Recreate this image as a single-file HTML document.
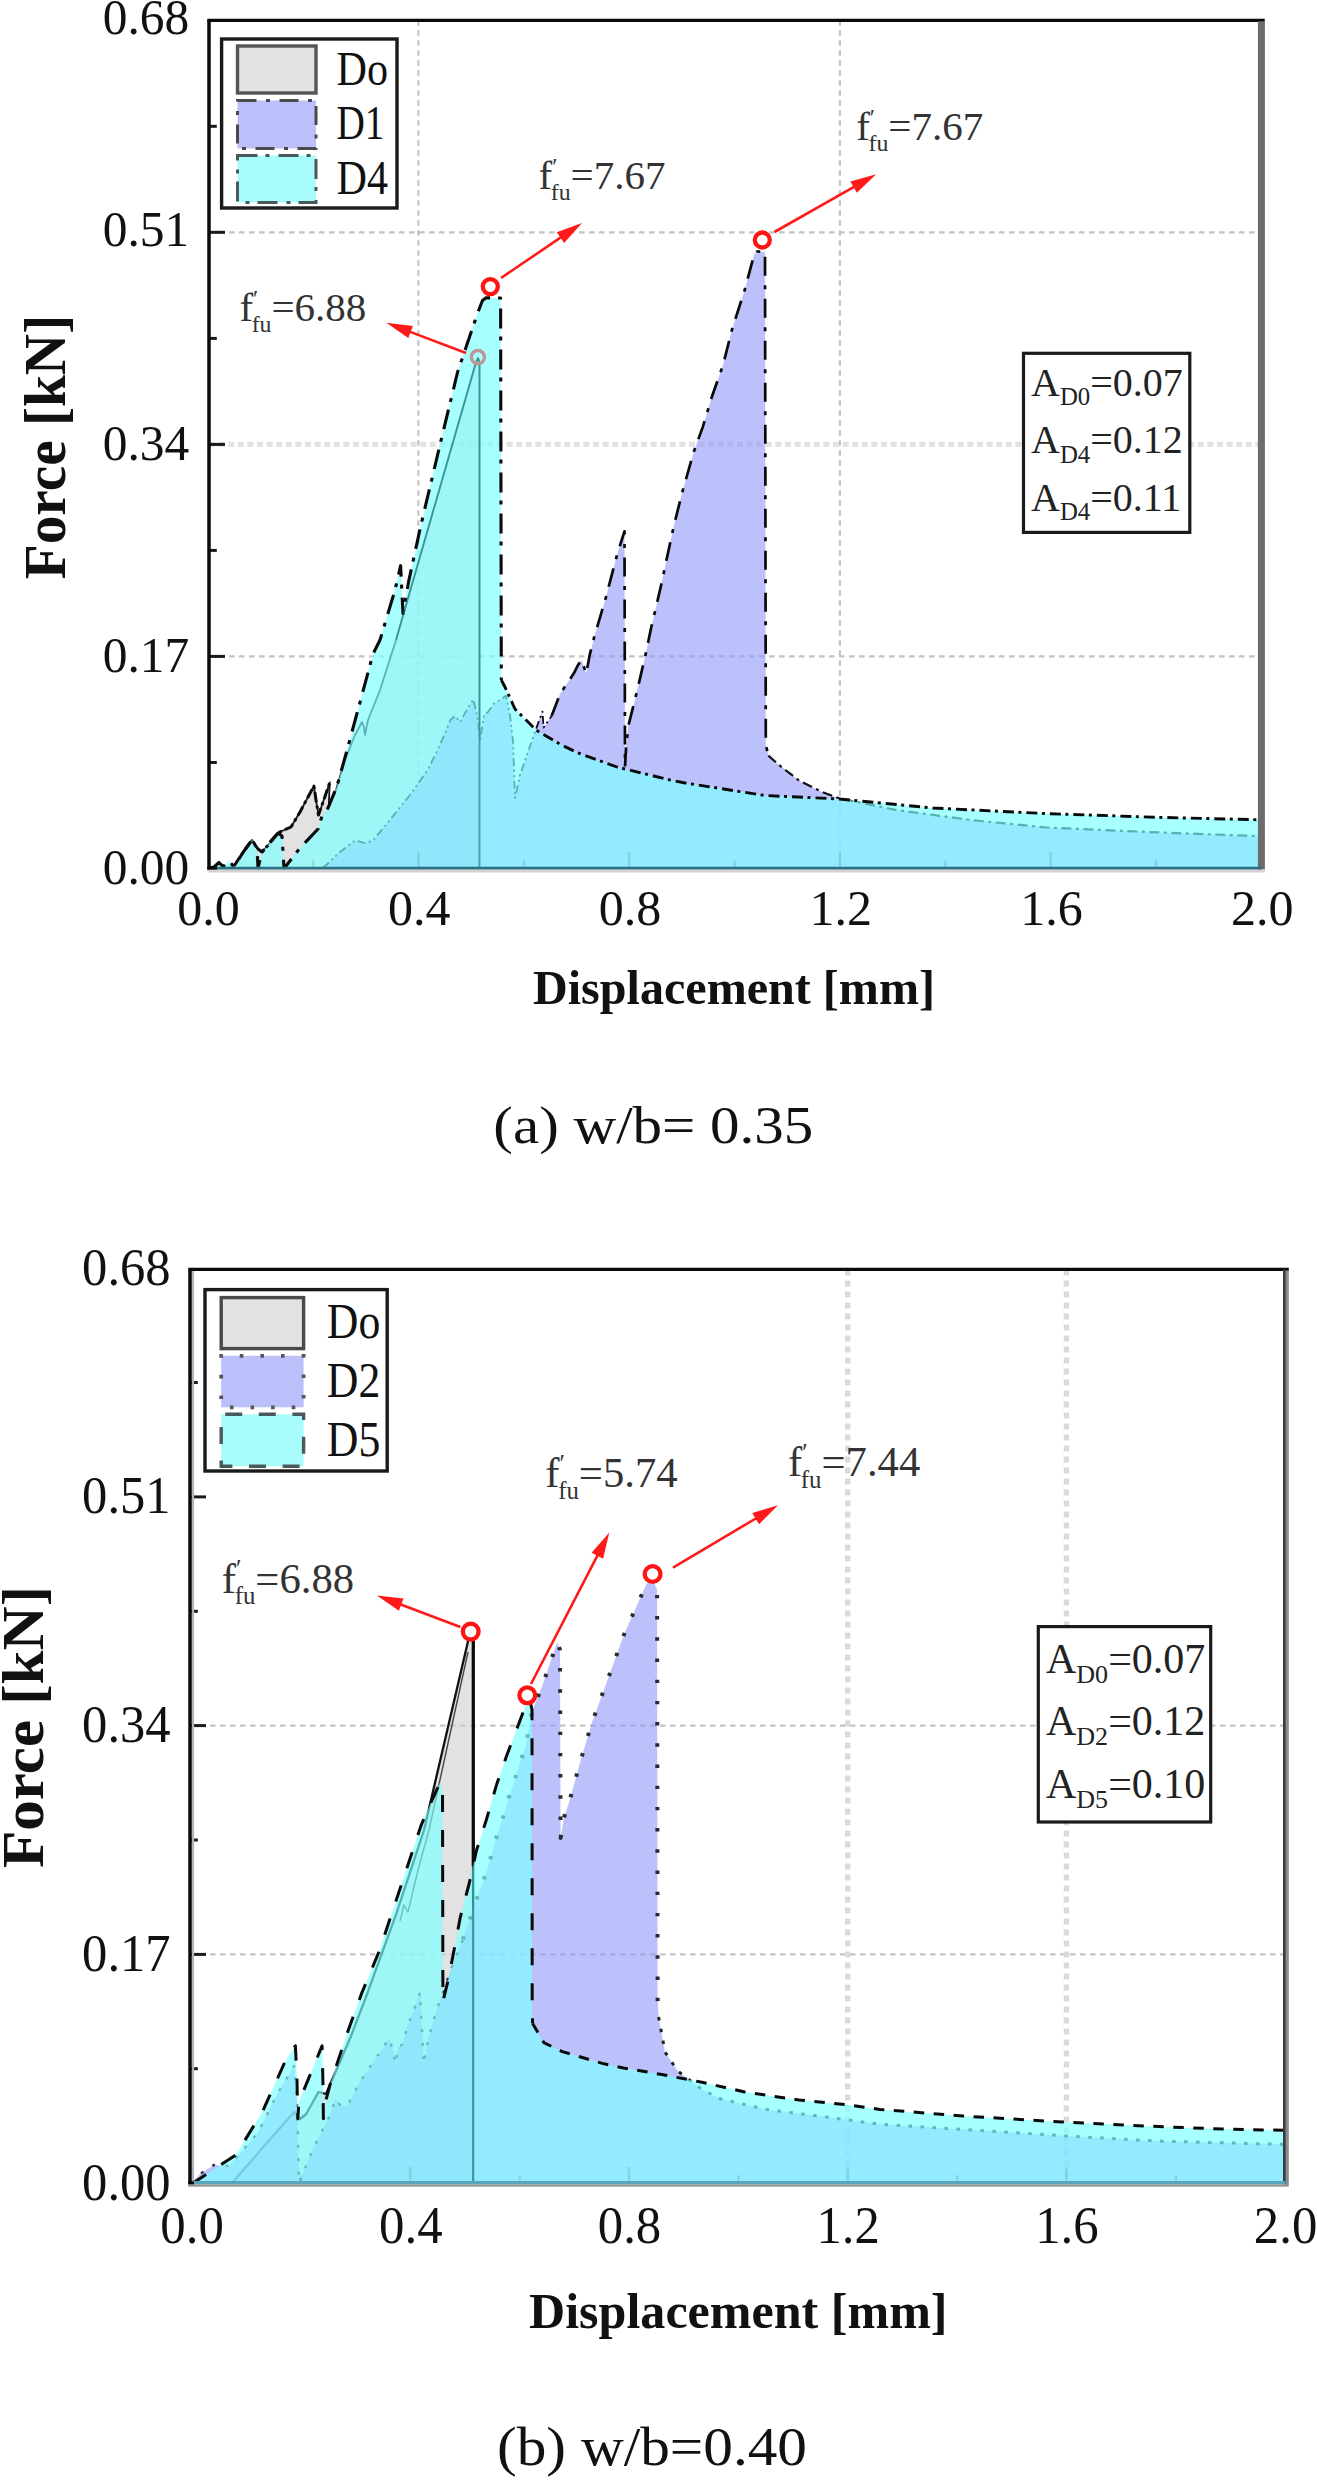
<!DOCTYPE html><html><head><meta charset="utf-8"><title>Force-displacement curves</title>
<style>html,body{margin:0;padding:0;background:#fff}svg{display:block}text{font-family:'Liberation Serif', 'Times New Roman', serif;}</style></head><body>
<svg width="1317" height="2480" viewBox="0 0 1317 2480">
<rect width="1317" height="2480" fill="#fff"/>
<g id="chartA">
<line x1="209.0" x2="1261.4" y1="656.4" y2="656.4" stroke="#c4c4c4" stroke-width="2.2" stroke-dasharray="5.5,4.5"/>
<line x1="209.0" x2="1261.4" y1="232.3" y2="232.3" stroke="#c4c4c4" stroke-width="2.2" stroke-dasharray="5.5,4.5"/>
<line x1="209.0" x2="1261.4" y1="444.4" y2="444.4" stroke="#e3e3e3" stroke-width="5.4" stroke-dasharray="6,3.6"/>
<line y1="20.3" y2="868.0" x1="418.4" x2="418.4" stroke="#c4c4c4" stroke-width="2.2" stroke-dasharray="5.5,4.5"/>
<line y1="20.3" y2="868.0" x1="839.9" x2="839.9" stroke="#c4c4c4" stroke-width="2.2" stroke-dasharray="5.5,4.5"/>
<polygon points="228.0,868.0 234.0,866.0 244.0,851.0 252.0,840.0 258.0,849.0 262.0,852.0 270.0,843.0 278.6,832.5 291.0,827.0 300.0,812.0 313.9,786.0 316.0,800.0 318.5,815.0 322.0,805.0 329.8,782.4 329.0,800.0 328.7,808.0 336.0,790.0 345.0,760.0 355.0,735.0 362.0,722.0 364.0,727.0 365.0,735.0 368.0,720.0 380.0,690.0 396.0,640.0 475.8,363.0 478.0,358.0 479.5,362.0 479.5,868.0" fill="rgb(207,207,207)" fill-opacity="0.6"/>
<polyline points="228.0,868.0 234.0,866.0 244.0,851.0 252.0,840.0 258.0,849.0 262.0,852.0 270.0,843.0 278.6,832.5 291.0,827.0 300.0,812.0 313.9,786.0 316.0,800.0 318.5,815.0 322.0,805.0 329.8,782.4 329.0,800.0 328.7,808.0 336.0,790.0 345.0,760.0 355.0,735.0 362.0,722.0 364.0,727.0 365.0,735.0 368.0,720.0 380.0,690.0 396.0,640.0 475.8,363.0 478.0,358.0 479.5,362.0 479.5,868.0" fill="none" stroke="#1a1a1a" stroke-width="1.8" stroke-linejoin="round"/>
<polygon points="323.0,868.0 340.0,852.0 355.0,840.5 365.0,843.0 373.0,840.5 393.6,815.4 410.0,795.0 427.8,769.8 440.0,745.0 450.6,719.7 455.0,716.0 460.0,722.0 468.0,708.0 473.3,699.2 478.0,720.0 480.0,740.0 484.0,715.0 488.0,712.0 493.8,703.8 500.0,700.0 506.0,695.7 510.0,715.0 513.0,741.0 515.0,798.0 520.0,775.0 535.7,729.8 542.5,711.6 543.6,727.6 551.6,716.0 560.0,694.0 573.7,673.6 578.0,665.0 581.6,660.0 586.2,673.6 589.6,655.4 594.2,637.2 605.6,598.5 617.0,555.0 624.5,531.3 625.0,767.0 626.0,748.8 628.3,726.0 635.2,698.7 645.4,655.4 651.1,628.0 660.2,589.3 673.9,525.6 682.6,491.0 693.9,451.5 702.9,426.6 712.5,395.0 723.2,364.5 732.3,328.4 744.7,290.0 754.3,253.9 757.0,251.5 765.0,252.0 765.8,745.0 768.4,755.6 778.7,764.7 799.2,780.7 822.0,792.0 839.5,798.5 895.5,809.8 971.0,820.0 1046.0,827.5 1160.0,832.5 1261.5,836.2 1261.5,868.0" fill="rgb(145,152,248)" fill-opacity="0.6"/>
<polyline points="323.0,868.0 340.0,852.0 355.0,840.5 365.0,843.0 373.0,840.5 393.6,815.4 410.0,795.0 427.8,769.8 440.0,745.0 450.6,719.7 455.0,716.0 460.0,722.0 468.0,708.0 473.3,699.2 478.0,720.0 480.0,740.0 484.0,715.0 488.0,712.0 493.8,703.8 500.0,700.0 506.0,695.7 510.0,715.0 513.0,741.0 515.0,798.0 520.0,775.0 535.7,729.8 542.5,711.6 543.6,727.6 551.6,716.0" fill="none" stroke="#111" stroke-width="1.8" stroke-dasharray="8,3.5,2,3.5,2,3.5" stroke-linejoin="round"/>
<polyline points="551.6,716.0 560.0,694.0 573.7,673.6 578.0,665.0 581.6,660.0 586.2,673.6 589.6,655.4 594.2,637.2 605.6,598.5 617.0,555.0 624.5,531.3 625.0,767.0 626.0,748.8 628.3,726.0 635.2,698.7 645.4,655.4 651.1,628.0 660.2,589.3 673.9,525.6 682.6,491.0 693.9,451.5 702.9,426.6 712.5,395.0 723.2,364.5 732.3,328.4 744.7,290.0 754.3,253.9 757.0,251.5 765.0,252.0 765.8,745.0 768.4,755.6" fill="none" stroke="#0a0a0a" stroke-width="2.7" stroke-dasharray="19,9.5,4,9.5" stroke-linejoin="round"/>
<polyline points="768.4,755.6 778.7,764.7 799.2,780.7 822.0,792.0 839.5,798.5 895.5,809.8 971.0,820.0 1046.0,827.5 1160.0,832.5 1261.5,836.2" fill="none" stroke="#111" stroke-width="2.2" stroke-dasharray="10,4.5,3,4.5" stroke-linejoin="round"/>
<polygon points="209.0,868.0 214.0,867.0 219.0,862.5 223.0,866.5 229.0,861.5 234.0,866.5 244.0,851.0 252.0,840.0 257.0,848.0 258.0,868.0 262.0,852.0 270.0,842.0 278.0,833.0 282.0,836.0 284.0,868.0 286.0,866.0 300.0,848.0 318.0,829.0 322.0,816.0 328.0,808.0 337.0,786.0 346.0,754.0 359.0,706.0 373.0,654.0 380.0,640.0 395.0,590.0 400.6,565.7 403.0,613.6 408.6,581.7 421.0,524.7 441.6,438.0 457.6,372.0 478.0,312.0 482.5,300.5 486.0,297.8 500.6,298.0 501.3,680.0 505.0,687.0 515.0,709.0 536.0,730.0 560.0,744.2 577.0,752.5 617.0,767.0 668.0,779.5 685.3,783.0 736.0,791.0 765.0,795.5 839.5,799.0 933.0,808.0 1046.0,813.6 1160.0,817.4 1261.5,819.8 1261.5,868.0" fill="rgb(125,255,255)" fill-opacity="0.67"/>
<polyline points="209.0,868.0 214.0,867.0 219.0,862.5 223.0,866.5 229.0,861.5 234.0,866.5 244.0,851.0 252.0,840.0 257.0,848.0 258.0,868.0 262.0,852.0 270.0,842.0 278.0,833.0 282.0,836.0 284.0,868.0 286.0,866.0 300.0,848.0 318.0,829.0 322.0,816.0 328.0,808.0 337.0,786.0 346.0,754.0 359.0,706.0 373.0,654.0 380.0,640.0 395.0,590.0 400.6,565.7 403.0,613.6 408.6,581.7 421.0,524.7 441.6,438.0 457.6,372.0 478.0,312.0 482.5,300.5 486.0,297.8 500.6,298.0 501.3,680.0" fill="none" stroke="#0a0a0a" stroke-width="3.1" stroke-dasharray="20,8,4,9" stroke-linejoin="round"/>
<polyline points="501.3,680.0 505.0,687.0 515.0,709.0 536.0,730.0 560.0,744.2 577.0,752.5 617.0,767.0 668.0,779.5 685.3,783.0 736.0,791.0 765.0,795.5 839.5,799.0 933.0,808.0 1046.0,813.6 1160.0,817.4 1261.5,819.8" fill="none" stroke="#0a0a0a" stroke-width="2.9" stroke-dasharray="11,4.5,3,5" stroke-linejoin="round"/>
<polyline points="234.0,866.0 244.0,851.0 252.0,840.0 258.0,849.0 262.0,852.0 270.0,843.0 278.6,832.5 291.0,827.0 300.0,812.0 313.9,786.0 316.0,800.0 318.5,815.0 322.0,805.0 329.8,782.4" fill="none" stroke="#0a0a0a" stroke-width="3.0" stroke-dasharray="10,3.5,3,3.5" stroke-linejoin="round"/>
<polyline points="396.0,640.0 475.8,363.0 478.0,358.0 479.5,362.0 479.5,868.0" fill="none" stroke="#1d7c80" stroke-width="1.8" stroke-opacity="0.55" stroke-linejoin="round"/>
<line x1="209.0" x2="216.8" y1="762.5" y2="762.5" stroke="#1a1a1a" stroke-width="3"/>
<line x1="209.0" x2="225.0" y1="656.4" y2="656.4" stroke="#1a1a1a" stroke-width="3"/>
<line x1="209.0" x2="216.8" y1="550.4" y2="550.4" stroke="#1a1a1a" stroke-width="3"/>
<line x1="209.0" x2="225.0" y1="444.4" y2="444.4" stroke="#1a1a1a" stroke-width="3"/>
<line x1="209.0" x2="216.8" y1="338.4" y2="338.4" stroke="#1a1a1a" stroke-width="3"/>
<line x1="209.0" x2="225.0" y1="232.3" y2="232.3" stroke="#1a1a1a" stroke-width="3"/>
<line x1="209.0" x2="216.8" y1="126.3" y2="126.3" stroke="#1a1a1a" stroke-width="3"/>
<line y1="868.0" y2="860.2" x1="313.0" x2="313.0" stroke="#4f8098" stroke-opacity="0.22" stroke-width="2.4"/>
<line y1="868.0" y2="852.0" x1="418.4" x2="418.4" stroke="#4f8098" stroke-opacity="0.22" stroke-width="2.4"/>
<line y1="868.0" y2="860.2" x1="523.7" x2="523.7" stroke="#4f8098" stroke-opacity="0.22" stroke-width="2.4"/>
<line y1="868.0" y2="852.0" x1="629.1" x2="629.1" stroke="#4f8098" stroke-opacity="0.22" stroke-width="2.4"/>
<line y1="868.0" y2="860.2" x1="734.5" x2="734.5" stroke="#4f8098" stroke-opacity="0.22" stroke-width="2.4"/>
<line y1="868.0" y2="852.0" x1="839.9" x2="839.9" stroke="#4f8098" stroke-opacity="0.22" stroke-width="2.4"/>
<line y1="868.0" y2="860.2" x1="945.3" x2="945.3" stroke="#4f8098" stroke-opacity="0.22" stroke-width="2.4"/>
<line y1="868.0" y2="852.0" x1="1050.6" x2="1050.6" stroke="#4f8098" stroke-opacity="0.22" stroke-width="2.4"/>
<line y1="868.0" y2="860.2" x1="1156.0" x2="1156.0" stroke="#4f8098" stroke-opacity="0.22" stroke-width="2.4"/>
<line x1="207.3" x2="1264.7" y1="20.3" y2="20.3" stroke="#0a0a0a" stroke-width="3.2"/>
<line x1="209.0" x2="209.0" y1="20.3" y2="869.6" stroke="#0a0a0a" stroke-width="3.5"/>
<line x1="1261.4" x2="1261.4" y1="21.3" y2="869.5" stroke="#6c6c6c" stroke-width="7"/>
<line x1="207.3" x2="1264.7" y1="871.0" y2="871.0" stroke="#d6d2d2" stroke-width="3"/>
<line x1="207.3" x2="217.0" y1="868.2" y2="868.2" stroke="#0a0a0a" stroke-width="3"/>
<line x1="217.0" x2="1261.4" y1="868.2" y2="868.2" stroke="#2e7084" stroke-width="2.8"/>
<circle cx="490.3" cy="286.6" r="7.5" fill="#fff" stroke="#ff1414" stroke-width="4.3"/>
<line x1="501.0" y1="278.0" x2="563.8" y2="235.4" stroke="#ff1a1a" stroke-width="2.6"/>
<polygon points="582.0,223.0 564.1,243.0 556.8,232.2" fill="#ff1a1a"/>
<circle cx="477.9" cy="357.1" r="6.6" fill="none" stroke="#bd9898" stroke-width="3.4"/>
<line x1="466.0" y1="353.0" x2="406.9" y2="330.6" stroke="#ff1a1a" stroke-width="2.6"/>
<polygon points="386.3,322.8 412.9,325.9 408.3,338.1" fill="#ff1a1a"/>
<circle cx="762.3" cy="240.0" r="7.5" fill="#fff" stroke="#ff1414" stroke-width="4.3"/>
<line x1="774.4" y1="232.0" x2="857.1" y2="185.1" stroke="#ff1a1a" stroke-width="2.6"/>
<polygon points="876.2,174.2 856.8,192.7 850.4,181.4" fill="#ff1a1a"/>
<text x="538.5" y="188.8" font-size="41.0" text-anchor="start" font-weight="normal" fill="#333">f<tspan font-size="23.8" dy="-14.8">′</tspan><tspan font-size="23.8" dy="25.8" dx="-6.6">fu</tspan><tspan dy="-11.1">=7.67</tspan></text>
<text x="856.2" y="140.1" font-size="41.0" text-anchor="start" font-weight="normal" fill="#333">f<tspan font-size="23.8" dy="-14.8">′</tspan><tspan font-size="23.8" dy="25.8" dx="-6.6">fu</tspan><tspan dy="-11.1">=7.67</tspan></text>
<text x="239.4" y="320.9" font-size="41.0" text-anchor="start" font-weight="normal" fill="#333">f<tspan font-size="23.8" dy="-14.8">′</tspan><tspan font-size="23.8" dy="25.8" dx="-6.6">fu</tspan><tspan dy="-11.1">=6.88</tspan></text>
<rect x="221.6" y="39" width="175.4" height="169" fill="#fff" stroke="#1a1a1a" stroke-width="3.4"/>
<rect x="237.5" y="46" width="78.5" height="47" fill="#e2e2e2" stroke="#555" stroke-width="3.4"/>
<rect x="237.5" y="100.5" width="78.5" height="48" fill="#bcc0fa"/>
<rect x="237.5" y="100.5" width="78.5" height="48" fill="none" stroke="#4a4a4a" stroke-width="3" stroke-dasharray="19,9.5,4,9.5"/>
<rect x="237.5" y="155.5" width="78.5" height="47" fill="#a8fcfc"/>
<rect x="237.5" y="155.5" width="78.5" height="47" fill="none" stroke="#4a5a5a" stroke-width="3" stroke-dasharray="20,8,4,9"/>
<text x="336.5" y="85.0" font-size="47.5" text-anchor="start" font-weight="normal" fill="#111" textLength="51.5" lengthAdjust="spacingAndGlyphs">Do</text>
<text x="336.5" y="139.3" font-size="47.5" text-anchor="start" font-weight="normal" fill="#111" textLength="48.0" lengthAdjust="spacingAndGlyphs">D1</text>
<text x="336.5" y="194.2" font-size="47.5" text-anchor="start" font-weight="normal" fill="#111" textLength="51.5" lengthAdjust="spacingAndGlyphs">D4</text>
<rect x="1023.5" y="353.3" width="166.3" height="179.1" fill="#fff" stroke="#1a1a1a" stroke-width="3.2"/>
<text x="1031.0" y="395.5" font-size="40.0" text-anchor="start" font-weight="normal" fill="#222">A<tspan font-size="24.8" dy="9.6">D0</tspan><tspan dy="-9.6">=0.07</tspan></text>
<text x="1031.0" y="453.0" font-size="40.0" text-anchor="start" font-weight="normal" fill="#222">A<tspan font-size="24.8" dy="9.6">D4</tspan><tspan dy="-9.6">=0.12</tspan></text>
<text x="1031.0" y="510.6" font-size="40.0" text-anchor="start" font-weight="normal" fill="#222">A<tspan font-size="24.8" dy="9.6">D4</tspan><tspan dy="-9.6">=0.11</tspan></text>
<text x="189.3" y="33.6" font-size="50.5" text-anchor="end" font-weight="normal" fill="#111" textLength="86.5" lengthAdjust="spacingAndGlyphs">0.68</text>
<text x="189.3" y="246.3" font-size="50.5" text-anchor="end" font-weight="normal" fill="#111" textLength="86.5" lengthAdjust="spacingAndGlyphs">0.51</text>
<text x="189.3" y="459.5" font-size="50.5" text-anchor="end" font-weight="normal" fill="#111" textLength="86.5" lengthAdjust="spacingAndGlyphs">0.34</text>
<text x="189.3" y="672.1" font-size="50.5" text-anchor="end" font-weight="normal" fill="#111" textLength="86.5" lengthAdjust="spacingAndGlyphs">0.17</text>
<text x="189.3" y="884.3" font-size="50.5" text-anchor="end" font-weight="normal" fill="#111" textLength="86.5" lengthAdjust="spacingAndGlyphs">0.00</text>
<text x="208.4" y="925.2" font-size="51.0" text-anchor="middle" font-weight="normal" fill="#111" textLength="62.5" lengthAdjust="spacingAndGlyphs">0.0</text>
<text x="419.2" y="925.2" font-size="51.0" text-anchor="middle" font-weight="normal" fill="#111" textLength="62.5" lengthAdjust="spacingAndGlyphs">0.4</text>
<text x="629.9" y="925.2" font-size="51.0" text-anchor="middle" font-weight="normal" fill="#111" textLength="62.5" lengthAdjust="spacingAndGlyphs">0.8</text>
<text x="840.7" y="925.2" font-size="51.0" text-anchor="middle" font-weight="normal" fill="#111" textLength="62.5" lengthAdjust="spacingAndGlyphs">1.2</text>
<text x="1051.4" y="925.2" font-size="51.0" text-anchor="middle" font-weight="normal" fill="#111" textLength="62.5" lengthAdjust="spacingAndGlyphs">1.6</text>
<text x="1262.2" y="925.2" font-size="51.0" text-anchor="middle" font-weight="normal" fill="#111" textLength="62.5" lengthAdjust="spacingAndGlyphs">2.0</text>
<text x="734.0" y="1004.3" font-size="48.0" text-anchor="middle" font-weight="bold" fill="#111" textLength="402.0" lengthAdjust="spacingAndGlyphs">Displacement [mm]</text>
<text transform="translate(64.5,447) rotate(-90)" font-size="59.5" font-weight="bold" text-anchor="middle" fill="#111" textLength="264.5" lengthAdjust="spacingAndGlyphs">Force [kN]</text>
<text x="493.3" y="1143.0" font-size="52.0" text-anchor="start" font-weight="normal" fill="#111" textLength="320.0" lengthAdjust="spacingAndGlyphs">(a) w/b= 0.35</text>
</g>
<g id="chartB">
<line x1="190.0" x2="1285.5" y1="1954.4" y2="1954.4" stroke="#c4c4c4" stroke-width="2.2" stroke-dasharray="5.5,4.5"/>
<line x1="190.0" x2="1285.5" y1="1725.6" y2="1725.6" stroke="#c4c4c4" stroke-width="2.2" stroke-dasharray="5.5,4.5"/>
<line y1="1269.4" y2="2183.0" x1="847.7" x2="847.7" stroke="#dadada" stroke-width="5.4" stroke-dasharray="6,5"/>
<line y1="1269.4" y2="2183.0" x1="1066.4" x2="1066.4" stroke="#dadada" stroke-width="5.4" stroke-dasharray="6,5"/>
<polygon points="232.0,2183.0 262.6,2147.8 294.2,2112.0 300.0,2119.0 306.3,2113.8 318.5,2092.0 326.0,2094.0 350.0,2038.5 366.0,1997.0 396.0,1914.6 424.0,1830.0 468.5,1639.3 471.0,1634.0 473.1,1640.0 473.1,2183.0" fill="rgb(207,207,207)" fill-opacity="0.6"/>
<polyline points="232.0,2183.0 262.6,2147.8 294.2,2112.0 300.0,2119.0 306.3,2113.8 318.5,2092.0 326.0,2094.0 350.0,2038.5 366.0,1997.0 396.0,1914.6 424.0,1830.0 468.5,1639.3 471.0,1634.0 473.1,1640.0 473.1,2183.0" fill="none" stroke="#111" stroke-width="2.3" stroke-linejoin="round"/>
<polyline points="400.0,1921.0 404.0,1905.0 408.0,1912.0 418.0,1870.0 429.0,1830.0 468.0,1652.0" fill="none" stroke="#444" stroke-width="1.4" stroke-linejoin="round"/>
<polyline points="473.3,1641.0 473.3,1866.0" fill="none" stroke="#0a0a0a" stroke-width="3.2" stroke-linejoin="round"/>
<polygon points="191.5,2183.0 200.0,2174.0 214.0,2165.0 228.6,2166.0 240.7,2152.7 257.8,2133.0 277.2,2094.0 290.0,2073.0 294.2,2066.0 297.0,2100.0 299.0,2183.0 312.4,2150.3 321.0,2133.0 330.0,2115.0 335.5,2099.0 341.0,2106.0 347.7,2105.0 359.8,2082.0 374.4,2060.4 389.0,2038.5 393.0,2050.0 395.5,2064.0 398.0,2047.0 401.9,2045.0 407.3,2027.0 413.7,2010.6 420.1,1992.4 422.0,2030.0 423.7,2064.0 428.0,2040.0 432.8,2023.3 438.3,2005.0 452.0,1966.9 462.9,1939.5 469.3,1921.3 474.8,1903.0 482.0,1884.9 488.4,1865.7 493.0,1849.3 497.5,1833.8 503.9,1814.7 508.5,1798.3 513.9,1782.8 519.4,1764.6 525.9,1745.9 531.4,1713.0 542.3,1685.8 557.3,1642.0 560.0,1650.0 560.6,1838.0 564.0,1817.4 569.5,1801.0 580.5,1761.0 591.5,1724.0 624.3,1633.8 646.2,1584.6 652.0,1577.0 657.1,1590.0 657.6,2000.0 658.6,2017.0 665.0,2052.0 677.7,2071.0 700.0,2088.0 719.0,2098.5 767.0,2109.6 830.8,2117.6 880.0,2124.3 989.5,2131.0 1065.8,2136.0 1155.4,2141.0 1285.5,2144.4 1285.5,2183.0" fill="rgb(145,152,248)" fill-opacity="0.6"/>
<polyline points="191.5,2183.0 200.0,2174.0 214.0,2165.0 228.6,2166.0 240.7,2152.7 257.8,2133.0 277.2,2094.0 290.0,2073.0 294.2,2066.0 297.0,2100.0 299.0,2183.0 312.4,2150.3 321.0,2133.0 330.0,2115.0 335.5,2099.0 341.0,2106.0 347.7,2105.0 359.8,2082.0 374.4,2060.4 389.0,2038.5 393.0,2050.0 395.5,2064.0 398.0,2047.0 401.9,2045.0 407.3,2027.0 413.7,2010.6 420.1,1992.4 422.0,2030.0 423.7,2064.0 428.0,2040.0 432.8,2023.3 438.3,2005.0 452.0,1966.9 462.9,1939.5" fill="none" stroke="#333" stroke-width="2.4" stroke-dasharray="3,10.5" stroke-linejoin="round"/>
<polyline points="462.9,1939.5 469.3,1921.3 474.8,1903.0 482.0,1884.9 488.4,1865.7 493.0,1849.3 497.5,1833.8 503.9,1814.7 508.5,1798.3 513.9,1782.8 519.4,1764.6 525.9,1745.9 531.4,1713.0 542.3,1685.8 557.3,1642.0 560.0,1650.0 560.6,1838.0 564.0,1817.4 569.5,1801.0 580.5,1761.0 591.5,1724.0 624.3,1633.8 646.2,1584.6 652.0,1577.0 657.1,1590.0 657.6,2000.0 658.6,2017.0" fill="none" stroke="#2a2a2a" stroke-width="4.0" stroke-dasharray="3.4,17.8" stroke-linejoin="round"/>
<polyline points="658.6,2017.0 665.0,2052.0 677.7,2071.0 700.0,2088.0 719.0,2098.5 767.0,2109.6 830.8,2117.6 880.0,2124.3 989.5,2131.0 1065.8,2136.0 1155.4,2141.0 1285.5,2144.4" fill="none" stroke="#222" stroke-width="3.0" stroke-dasharray="3.5,8.5" stroke-linejoin="round"/>
<polygon points="191.5,2183.0 194.6,2181.9 235.9,2155.0 262.6,2111.4 284.5,2062.8 295.4,2045.8 297.0,2080.0 297.8,2118.7 299.0,2101.7 322.1,2045.8 323.0,2085.0 323.4,2118.7 326.0,2100.0 330.2,2084.2 347.7,2031.8 361.6,1993.4 379.1,1951.5 393.1,1909.6 407.0,1867.7 421.0,1825.7 431.5,1801.3 440.1,1782.5 442.5,1790.0 442.9,2001.5 448.3,1979.6 454.7,1946.8 460.2,1917.7 469.3,1883.0 476.6,1850.0 486.6,1819.0 496.6,1784.6 506.7,1755.5 525.9,1704.9 530.0,1700.0 532.0,1710.0 532.2,2010.0 532.6,2023.5 543.8,2042.6 562.2,2051.6 584.1,2058.0 602.3,2063.4 623.5,2068.0 661.8,2074.5 703.2,2082.5 744.7,2092.0 798.9,2100.0 846.7,2104.8 880.0,2109.4 963.0,2116.0 1062.5,2122.0 1145.5,2126.0 1211.8,2128.7 1285.5,2130.4 1285.5,2183.0" fill="rgb(125,255,255)" fill-opacity="0.67"/>
<polyline points="191.5,2183.0 194.6,2181.9 235.9,2155.0 262.6,2111.4 284.5,2062.8 295.4,2045.8 297.0,2080.0 297.8,2118.7 299.0,2101.7 322.1,2045.8 323.0,2085.0 323.4,2118.7 326.0,2100.0 330.2,2084.2 347.7,2031.8 361.6,1993.4 379.1,1951.5 393.1,1909.6 407.0,1867.7 421.0,1825.7 431.5,1801.3 440.1,1782.5 442.5,1790.0 442.9,2001.5 448.3,1979.6 454.7,1946.8 460.2,1917.7 469.3,1883.0 476.6,1850.0 486.6,1819.0 496.6,1784.6 506.7,1755.5 525.9,1704.9 530.0,1700.0 532.0,1710.0 532.2,2010.0 532.6,2023.5" fill="none" stroke="#0a0a0a" stroke-width="3.0" stroke-dasharray="17,18" stroke-linejoin="round"/>
<polyline points="532.6,2023.5 543.8,2042.6 562.2,2051.6 584.1,2058.0 602.3,2063.4 623.5,2068.0 661.8,2074.5 703.2,2082.5 744.7,2092.0 798.9,2100.0 846.7,2104.8 880.0,2109.4 963.0,2116.0 1062.5,2122.0 1145.5,2126.0 1211.8,2128.7 1285.5,2130.4" fill="none" stroke="#0a0a0a" stroke-width="3.0" stroke-dasharray="10.5,9.5" stroke-linejoin="round"/>
<polyline points="473.1,1866.0 473.1,2183.0" fill="none" stroke="#1d7c80" stroke-width="2.2" stroke-opacity="0.6" stroke-linejoin="round"/>
<line x1="190.0" x2="197.8" y1="2068.7" y2="2068.7" stroke="#1a1a1a" stroke-width="3"/>
<line x1="190.0" x2="206.0" y1="1954.4" y2="1954.4" stroke="#1a1a1a" stroke-width="3"/>
<line x1="190.0" x2="197.8" y1="1840.0" y2="1840.0" stroke="#1a1a1a" stroke-width="3"/>
<line x1="190.0" x2="206.0" y1="1725.6" y2="1725.6" stroke="#1a1a1a" stroke-width="3"/>
<line x1="190.0" x2="197.8" y1="1611.3" y2="1611.3" stroke="#1a1a1a" stroke-width="3"/>
<line x1="190.0" x2="206.0" y1="1496.9" y2="1496.9" stroke="#1a1a1a" stroke-width="3"/>
<line x1="190.0" x2="197.8" y1="1382.5" y2="1382.5" stroke="#1a1a1a" stroke-width="3"/>
<line y1="2183.0" y2="2175.2" x1="300.9" x2="300.9" stroke="#4f8098" stroke-opacity="0.22" stroke-width="2.4"/>
<line y1="2183.0" y2="2167.0" x1="410.3" x2="410.3" stroke="#4f8098" stroke-opacity="0.22" stroke-width="2.4"/>
<line y1="2183.0" y2="2175.2" x1="519.7" x2="519.7" stroke="#4f8098" stroke-opacity="0.22" stroke-width="2.4"/>
<line y1="2183.0" y2="2167.0" x1="629.0" x2="629.0" stroke="#4f8098" stroke-opacity="0.22" stroke-width="2.4"/>
<line y1="2183.0" y2="2175.2" x1="738.4" x2="738.4" stroke="#4f8098" stroke-opacity="0.22" stroke-width="2.4"/>
<line y1="2183.0" y2="2167.0" x1="847.7" x2="847.7" stroke="#4f8098" stroke-opacity="0.22" stroke-width="2.4"/>
<line y1="2183.0" y2="2175.2" x1="957.1" x2="957.1" stroke="#4f8098" stroke-opacity="0.22" stroke-width="2.4"/>
<line y1="2183.0" y2="2167.0" x1="1066.4" x2="1066.4" stroke="#4f8098" stroke-opacity="0.22" stroke-width="2.4"/>
<line y1="2183.0" y2="2175.2" x1="1175.8" x2="1175.8" stroke="#4f8098" stroke-opacity="0.22" stroke-width="2.4"/>
<line x1="188.3" x2="1288.8" y1="1269.4" y2="1269.4" stroke="#0a0a0a" stroke-width="3.2"/>
<line x1="192.9" x2="192.9" y1="1271.0" y2="2182.0" stroke="#b4b4b4" stroke-width="2.4"/>
<line x1="190.0" x2="190.0" y1="1269.4" y2="2184.6" stroke="#0a0a0a" stroke-width="3.5"/>
<line x1="1287.3" x2="1287.3" y1="1270.4" y2="2186.6" stroke="#8c8c8c" stroke-width="3.0"/>
<line x1="1284.4" x2="1284.4" y1="1269.4" y2="2184.2" stroke="#3c3c3c" stroke-width="2.8"/>
<line x1="188.3" x2="1286.5" y1="2185.5" y2="2185.5" stroke="#989898" stroke-width="2.6"/>
<line x1="188.3" x2="194.0" y1="2182.8" y2="2182.8" stroke="#0a0a0a" stroke-width="3"/>
<line x1="194.0" x2="1285.5" y1="2182.6" y2="2182.6" stroke="#58a6be" stroke-width="3.1"/>
<circle cx="470.7" cy="1631.6" r="7.9" fill="#fff" stroke="#ff1414" stroke-width="4.3"/>
<line x1="460.3" y1="1627.0" x2="397.5" y2="1603.3" stroke="#ff1a1a" stroke-width="2.6"/>
<polygon points="376.9,1595.5 403.5,1598.6 398.9,1610.8" fill="#ff1a1a"/>
<circle cx="527.3" cy="1695.3" r="7.9" fill="#fff" stroke="#ff1414" stroke-width="4.3"/>
<line x1="531.0" y1="1684.0" x2="599.2" y2="1552.1" stroke="#ff1a1a" stroke-width="2.6"/>
<polygon points="609.3,1532.6 603.1,1558.7 591.6,1552.7" fill="#ff1a1a"/>
<circle cx="652.6" cy="1574.0" r="7.9" fill="#fff" stroke="#ff1414" stroke-width="4.3"/>
<line x1="673.0" y1="1567.6" x2="759.1" y2="1516.5" stroke="#ff1a1a" stroke-width="2.6"/>
<polygon points="778.0,1505.3 759.0,1524.2 752.3,1513.0" fill="#ff1a1a"/>
<text x="221.8" y="1592.6" font-size="42.7" text-anchor="start" font-weight="normal" fill="#333">f<tspan font-size="24.8" dy="-15.4">′</tspan><tspan font-size="24.8" dy="26.9" dx="-6.8">fu</tspan><tspan dy="-11.5">=6.88</tspan></text>
<text x="545.3" y="1487.0" font-size="42.7" text-anchor="start" font-weight="normal" fill="#333">f<tspan font-size="24.8" dy="-15.4">′</tspan><tspan font-size="24.8" dy="26.9" dx="-6.8">fu</tspan><tspan dy="-11.5">=5.74</tspan></text>
<text x="788.0" y="1476.3" font-size="42.7" text-anchor="start" font-weight="normal" fill="#333">f<tspan font-size="24.8" dy="-15.4">′</tspan><tspan font-size="24.8" dy="26.9" dx="-6.8">fu</tspan><tspan dy="-11.5">=7.44</tspan></text>
<rect x="205" y="1289.6" width="182.2" height="181.4" fill="#fff" stroke="#1a1a1a" stroke-width="3.4"/>
<rect x="221.2" y="1297.6" width="82.4" height="51" fill="#e2e2e2" stroke="#4a4a4a" stroke-width="3.4"/>
<rect x="221.2" y="1355.8" width="82.4" height="51.5" fill="#bcc0fa"/>
<rect x="221.2" y="1355.8" width="82.4" height="51.5" fill="none" stroke="#555" stroke-width="3.8" stroke-dasharray="3.6,17" stroke-dashoffset="2"/>
<rect x="221.2" y="1414.3" width="82.4" height="52" fill="#a8fcfc"/>
<rect x="221.2" y="1414.3" width="82.4" height="52" fill="none" stroke="#4a5a5a" stroke-width="3.4" stroke-dasharray="17,16.6" stroke-dashoffset="-4"/>
<text x="326.8" y="1338.2" font-size="50.0" text-anchor="start" font-weight="normal" fill="#111" textLength="53.5" lengthAdjust="spacingAndGlyphs">Do</text>
<text x="326.8" y="1396.8" font-size="50.0" text-anchor="start" font-weight="normal" fill="#111" textLength="53.5" lengthAdjust="spacingAndGlyphs">D2</text>
<text x="326.8" y="1455.6" font-size="50.0" text-anchor="start" font-weight="normal" fill="#111" textLength="53.5" lengthAdjust="spacingAndGlyphs">D5</text>
<rect x="1038.3" y="1626.6" width="172.4" height="195.4" fill="#fff" stroke="#1a1a1a" stroke-width="3.2"/>
<text x="1046.0" y="1672.5" font-size="42.0" text-anchor="start" font-weight="normal" fill="#222">A<tspan font-size="26.0" dy="10.1">D0</tspan><tspan dy="-10.1">=0.07</tspan></text>
<text x="1046.0" y="1735.2" font-size="42.0" text-anchor="start" font-weight="normal" fill="#222">A<tspan font-size="26.0" dy="10.1">D2</tspan><tspan dy="-10.1">=0.12</tspan></text>
<text x="1046.0" y="1797.9" font-size="42.0" text-anchor="start" font-weight="normal" fill="#222">A<tspan font-size="26.0" dy="10.1">D5</tspan><tspan dy="-10.1">=0.10</tspan></text>
<text x="170.6" y="1284.6" font-size="53.5" text-anchor="end" font-weight="normal" fill="#111" textLength="88.5" lengthAdjust="spacingAndGlyphs">0.68</text>
<text x="170.6" y="1513.3" font-size="53.5" text-anchor="end" font-weight="normal" fill="#111" textLength="88.5" lengthAdjust="spacingAndGlyphs">0.51</text>
<text x="170.6" y="1742.0" font-size="53.5" text-anchor="end" font-weight="normal" fill="#111" textLength="88.5" lengthAdjust="spacingAndGlyphs">0.34</text>
<text x="170.6" y="1970.8" font-size="53.5" text-anchor="end" font-weight="normal" fill="#111" textLength="88.5" lengthAdjust="spacingAndGlyphs">0.17</text>
<text x="170.6" y="2199.5" font-size="53.5" text-anchor="end" font-weight="normal" fill="#111" textLength="88.5" lengthAdjust="spacingAndGlyphs">0.00</text>
<text x="192.1" y="2243.3" font-size="53.5" text-anchor="middle" font-weight="normal" fill="#111" textLength="63.5" lengthAdjust="spacingAndGlyphs">0.0</text>
<text x="410.8" y="2243.3" font-size="53.5" text-anchor="middle" font-weight="normal" fill="#111" textLength="63.5" lengthAdjust="spacingAndGlyphs">0.4</text>
<text x="629.5" y="2243.3" font-size="53.5" text-anchor="middle" font-weight="normal" fill="#111" textLength="63.5" lengthAdjust="spacingAndGlyphs">0.8</text>
<text x="848.2" y="2243.3" font-size="53.5" text-anchor="middle" font-weight="normal" fill="#111" textLength="63.5" lengthAdjust="spacingAndGlyphs">1.2</text>
<text x="1066.9" y="2243.3" font-size="53.5" text-anchor="middle" font-weight="normal" fill="#111" textLength="63.5" lengthAdjust="spacingAndGlyphs">1.6</text>
<text x="1285.6" y="2243.3" font-size="53.5" text-anchor="middle" font-weight="normal" fill="#111" textLength="63.5" lengthAdjust="spacingAndGlyphs">2.0</text>
<text x="738.3" y="2327.5" font-size="50.0" text-anchor="middle" font-weight="bold" fill="#111" textLength="418.5" lengthAdjust="spacingAndGlyphs">Displacement [mm]</text>
<text transform="translate(42.5,1727) rotate(-90)" font-size="60" font-weight="bold" text-anchor="middle" fill="#111" textLength="282" lengthAdjust="spacingAndGlyphs">Force [kN]</text>
<text x="497.0" y="2465.0" font-size="54.0" text-anchor="start" font-weight="normal" fill="#111" textLength="310.0" lengthAdjust="spacingAndGlyphs">(b) w/b=0.40</text>
</g>
</svg></body></html>
